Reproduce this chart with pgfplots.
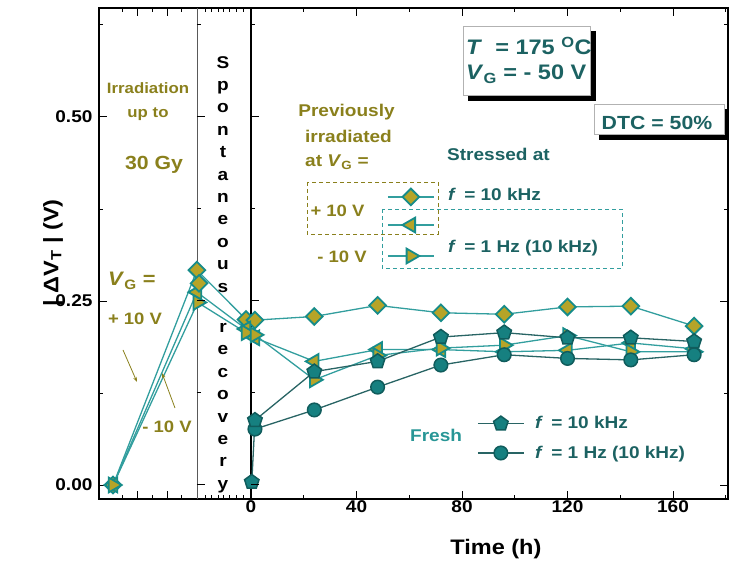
\documentclass[border=0pt]{standalone}
\usepackage{pgfplots}
\pgfplotsset{compat=1.18}
\usepackage{fontspec}
\setmainfont{Liberation Sans}[FakeStretch=1.12]
\usetikzlibrary{calc,arrows.meta}

\definecolor{olivetxt}{RGB}{138,128,28}
\definecolor{olivefill}{RGB}{182,164,40}
\definecolor{tealedge}{RGB}{22,140,138}
\definecolor{tealline}{RGB}{50,158,158}
\definecolor{freshfill}{RGB}{22,128,128}
\definecolor{freshedge}{RGB}{16,92,92}
\definecolor{freshline}{RGB}{40,100,100}
\definecolor{darkteal}{RGB}{28,98,98}
\definecolor{freshtxt}{RGB}{40,150,150}
\definecolor{shadowc}{RGB}{0,0,0}

\tikzset{
  irrline/.style={color=tealline, line width=1.3pt},
  freshl/.style={color=freshline, line width=1.3pt},
  mdiam/.style={mark=square*, mark size=5.9pt, mark options={rotate=45, draw=tealedge, fill=olivefill, line width=1.8pt, solid}},
  mltri/.style={mark=triangle*, mark size=8.5pt, mark options={rotate=90, draw=tealedge, fill=olivefill, line width=1.8pt, solid}},
  mrtri/.style={mark=triangle*, mark size=8.5pt, mark options={rotate=-90, draw=tealedge, fill=olivefill, line width=1.8pt, solid}},
  mpent/.style={mark=pentagon*, mark size=7.6pt, mark options={draw=freshedge, fill=freshfill, line width=1.5pt, solid}},
  mcirc/.style={mark=*, mark size=6.8pt, mark options={draw=freshedge, fill=freshfill, line width=1.5pt, solid}},
  lab/.style={font=\bfseries\fontsize{#1}{#1}\selectfont, inner sep=0pt},
}
\pgfplotsset{
  legax/.style={at={(main.south west)}, anchor=south west, scale only axis,
    width=629pt, height=491pt, hide axis, xmin=0, xmax=1, ymin=0, ymax=1,
    legend style={at={(axis description cs:#1)}, anchor=west, draw=none, fill=none,
      inner sep=0pt, nodes={inner sep=0pt}},
    legend image code/.code={\draw[mark repeat=2,mark phase=2,##1] plot coordinates {(0pt,0pt) (23pt,0pt) (46pt,0pt)};}},
}

\begin{document}
\begin{tikzpicture}
\begin{axis}[name=main, scale only axis, width=629pt, height=491pt,
  xmin=-57.63, xmax=180.85, ymin=-0.019, ymax=0.6481,
  xtick={0,40,80,120,160},
  minor xtick={20,60,100,140,180,-48.9,-37.5,-26.2,-17.4,-14.9,-12.5,-10.6,-8.0,-5.4,-3.0},
  extra x ticks={-43.2,-31.8}, extra x tick labels={},
  ytick={0,0.25,0.5}, minor ytick={0.125,0.375,0.625},
  yticklabel style={/pgf/number format/fixed, /pgf/number format/fixed zerofill, /pgf/number format/precision=2, xshift=-3pt},
  xticklabel style={yshift=1.5pt},
  /pgf/number format/assume math mode=true,
  tick label style={font=\bfseries\fontsize{17}{17}\selectfont},
  major tick length=8pt, minor tick length=4pt,
  tick style={black, line width=1pt},
  axis line style={line width=1.2pt},
  xlabel={Time (h)}, ylabel={| ΔV\textsubscript{T} | (V)},
  label style={font=\bfseries\fontsize{21}{21}\selectfont},
  xlabel style={at={(axis description cs:0.631,-0.114)}, anchor=base},
  ylabel style={at={(axis description cs:-0.073,0.501)}, anchor=center},
  clip=false,
]
\draw[gray!70!black, line width=0.8pt] (axis cs:-20.47,-0.019) -- (axis cs:-20.47,0.6481);
\draw[black, line width=1.2pt] (axis cs:0,-0.019) -- (axis cs:0,0.6481);

% previously irradiated at +10 V, stressed at 10 kHz
\addplot[irrline, mdiam] coordinates {(-52.3,0) (-20.5,0.292) (-1.9,0.225) (1.5,0.224) (24,0.229) (48,0.244) (72,0.234) (96,0.232) (120,0.242) (144,0.243) (168,0.216)};
% previously irradiated at +10 V, stressed at 1 Hz (10 kHz)
\addplot[irrline, mltri] coordinates {(-52.3,0) (-20.5,0.262) (-1.9,0.212) (1.5,0.200) (24,0.168) (48,0.184) (72,0.184) (96,0.181) (120,0.183) (144,0.193) (168,0.185)};
% previously irradiated at -10 V, stressed at 1 Hz (10 kHz)
\addplot[irrline, mrtri] coordinates {(-52.3,0) (-20.2,0.248) (-1.9,0.207) (1.5,0.204) (24,0.143) (48,0.176) (72,0.186) (96,0.190) (120,0.203) (144,0.181) (168,0.181)};
\addplot[only marks, mdiam] coordinates {(-19.7,0.274)};
% fresh, 1 Hz (10 kHz)
\addplot[freshl, mcirc] coordinates {(1.5,0.076) (24,0.102) (48,0.133) (72,0.163) (96,0.177) (120,0.172) (144,0.170) (168,0.177)};
% fresh, 10 kHz
\addplot[freshl, mpent] coordinates {(0.3,0.004) (1.5,0.088) (24,0.154) (48,0.168) (72,0.201) (96,0.207) (120,0.200) (144,0.200) (168,0.195)};
\end{axis}

% legend symbols, one row each
\begin{axis}[legax={0.4579,0.6151}]
\addlegendimage{irrline, mdiam}\addlegendentry{}
\end{axis}
\begin{axis}[legax={0.4579,0.5580}]
\addlegendimage{irrline, mltri}\addlegendentry{}
\end{axis}
\begin{axis}[legax={0.4579,0.4949}]
\addlegendimage{irrline, mrtri}\addlegendentry{}
\end{axis}
\begin{axis}[legax={0.6010,0.1548}]
\addlegendimage{freshl, mpent}\addlegendentry{}
\end{axis}
\begin{axis}[legax={0.6010,0.0937}]
\addlegendimage{freshl, mcirc}\addlegendentry{}
\end{axis}

\begin{scope}[shift={($(main.south west)+(-99pt,499pt)$)}, x=1pt, y=-1pt]
  % ticks on the inner vertical lines
  \foreach \yy/\len in {485/8, 393/4, 301/8, 209/4, 117/8, 25/4} {
    \draw[black, line width=1pt] (197,\yy) -- ++(\len,0);
    \draw[black, line width=1pt] (251,\yy) -- ++(\len,0);
  }
  % irradiation panel
  \node[lab=15, olivetxt, anchor=base] at (148,93.5) {Irradiation};
  \node[lab=15, olivetxt, anchor=base] at (148,117.5) {up to};
  \node[lab=19, olivetxt, anchor=base] at (154,170) {30 Gy};
  \node[lab=19.5, olivetxt, anchor=base west] at (108,286) {\textit{V}\textsubscript{G} =};
  \node[lab=16.5, olivetxt, anchor=base] at (135,325) {+ 10 V};
  \node[lab=16.5, olivetxt, anchor=base] at (167,433) {- 10 V};
  \draw[olivetxt, line width=0.8pt, -{Stealth[length=5pt,width=3.5pt]}] (123,350) -- (137,382);
  \draw[olivetxt, line width=0.8pt, -{Stealth[length=5pt,width=3.5pt]}] (175,408) -- (162,373);
  % spontaneous recovery
  \node[anchor=north, align=center, inner sep=0pt, font=\bfseries\fontsize{17}{22.4}\selectfont]
    at (223,56) {S\\p\\o\\n\\t\\a\\n\\e\\o\\u\\s\\[18pt]r\\e\\c\\o\\v\\e\\r\\y};
  % previously irradiated legend annotations
  \node[lab=17, olivetxt, anchor=base] at (346.5,117) {Previously};
  \node[lab=17, olivetxt, anchor=base] at (348.5,143) {irradiated};
  \node[lab=17, olivetxt, anchor=base] at (337,167) {at \textit{V}\textsubscript{G} =};
  \node[lab=17, darkteal, anchor=base west] at (447,161) {Stressed at};
  \node[lab=17, darkteal, anchor=base west] at (448,201) {\textit{f}\, = 10 kHz};
  \node[lab=17, darkteal, anchor=base west] at (448,253) {\textit{f}\, = 1 Hz (10 kHz)};
  \node[lab=16.5, olivetxt, anchor=base] at (337.5,217) {+ 10 V};
  \node[lab=16.5, olivetxt, anchor=base] at (342,263) {- 10 V};
  \draw[olivetxt, line width=0.9pt, dash pattern=on 4pt off 3pt] (307,182) rectangle (438,234);
  \draw[tealline, line width=0.9pt, dash pattern=on 4pt off 3pt] (382,209) rectangle (622,268);
  % fresh
  \node[lab=17, freshtxt, anchor=base west] at (410,442) {Fresh};
  \node[lab=17, darkteal, anchor=base west] at (535,429) {\textit{f}\, = 10 kHz};
  \node[lab=17, darkteal, anchor=base west] at (535,459) {\textit{f}\, = 1 Hz (10 kHz)};
  % condition boxes with drop shadows
  \path[fill=shadowc] (468,31) rectangle (596,101);
  \draw[shadowc, line width=5pt] (593.5,31) -- (593.5,98.5) -- (468,98.5);
  \filldraw[fill=white, draw=gray!60, line width=0.8pt] (463,26) rectangle (590,95);
  \node[lab=21, darkteal, anchor=base west] at (466,55) {\textit{T}\ \ = 175 \textsuperscript{O}C};
  \node[lab=21, darkteal, anchor=base west] at (466,80) {\textit{V}\textsubscript{G} = - 50 V};
  \path[fill=shadowc] (599,109) rectangle (728,140);
  \draw[shadowc, line width=5pt] (725.5,109) -- (725.5,137.5) -- (599,137.5);
  \filldraw[fill=white, draw=gray!60, line width=0.8pt] (594,104) rectangle (724,134);
  \node[lab=19, darkteal, anchor=base] at (657,130) {DTC = 50\%};
  \pgfresetboundingbox
  \path[use as bounding box] (0,0) rectangle (732,562);
\end{scope}
\end{tikzpicture}
\end{document}
